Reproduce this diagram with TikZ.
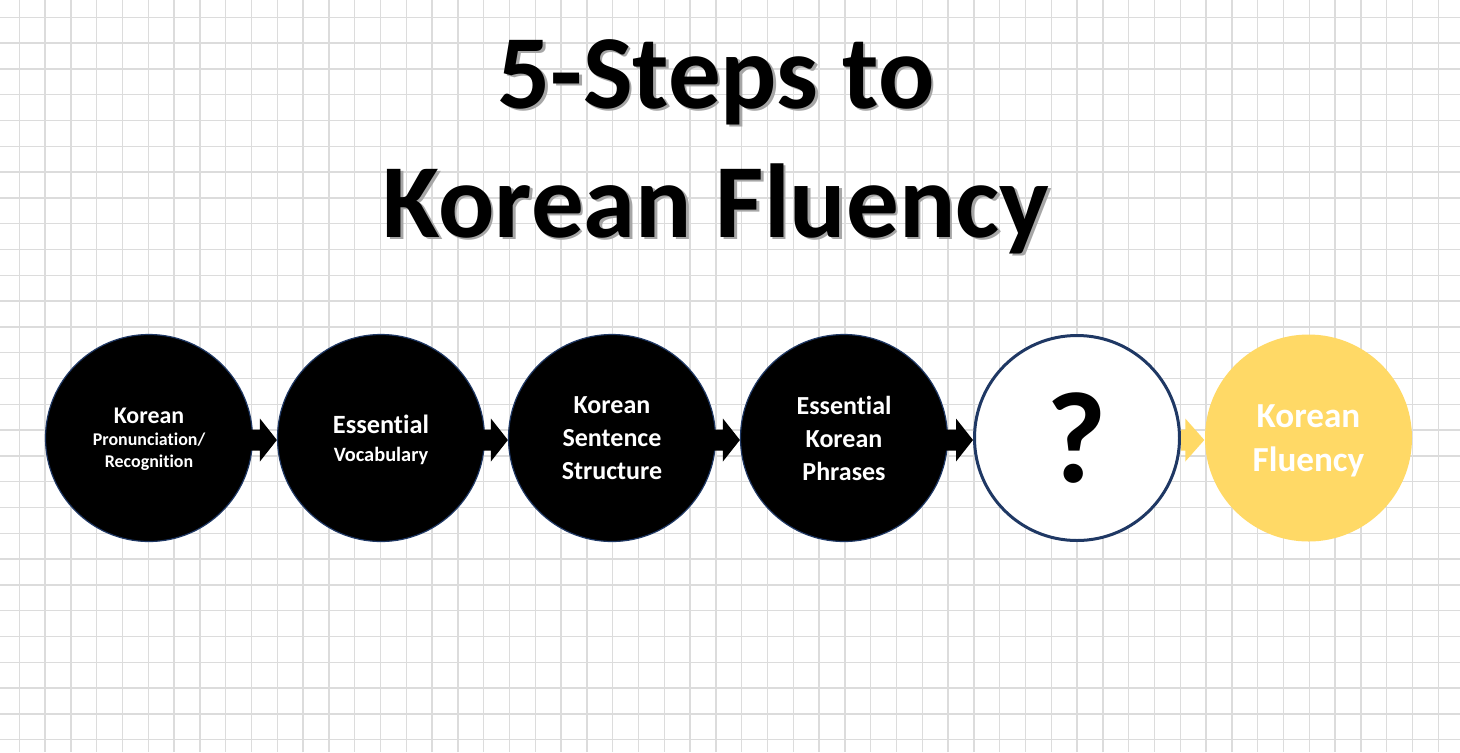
\documentclass[tikz,border=0pt]{standalone}
\usepackage{fontspec}
\setmainfont{Carlito}[Ligatures=CommonOff]
\usepackage{tikz}
\usepackage{xcolor}
\definecolor{stepnavy}{HTML}{1F3864}
\definecolor{fluencygold}{HTML}{FFD966}
\definecolor{gridgray}{HTML}{DCDCDC}

\begin{document}
\begin{tikzpicture}[line join=miter,
  gridline/.style={gridgray,line width=0.013cm},
  titletext/.style={anchor=base,font=\bfseries\fontsize{29.9pt}{36pt}\selectfont},
  stepcircle/.style={circle,inner sep=0pt,align=center,text depth=0pt},
  blackstep/.style={stepcircle,minimum size=2.07cm,fill=black,draw=stepnavy,line width=0.012cm,text=white},
  openstep/.style={stepcircle,minimum size=2.05cm,fill=white,draw=stepnavy,line width=0.03cm,text=black},
  goalstep/.style={stepcircle,minimum size=2.07cm,fill=fluencygold,text=white}]
\useasboundingbox (0,0) rectangle (14.6,7.52);
\fill[white] (0,0) rectangle (14.6,7.52);
% background grid
\foreach \i in {0,...,55} \draw[gridline] ({0.193+0.258*\i},0) -- ++(0,7.52);
\foreach \j in {0,...,28} \draw[gridline] (0,{7.347-0.258*\j}) -- ++(14.6,0);
% title with shadow
\node[titletext,text=black!35] (title1s) at (7.185,6.415) {5-Steps to};
\node[titletext,text=black!35] (title2s) at (7.185,5.125) {Korean Fluency};
\node[titletext] (title1) at (7.16,6.44) {5-Steps to};
\node[titletext] (title2) at (7.16,5.15) {Korean Fluency};
% steps
\node[blackstep,font=\bfseries\fontsize{5.1pt}{6.3pt}\selectfont] (c1) at (1.49,3.14)
  {{\fontsize{6.8pt}{7pt}\selectfont Korean}\\Pronunciation/\\Recognition};
\node[blackstep,font=\bfseries\fontsize{5.8pt}{8pt}\selectfont] (c2) at (3.81,3.14)
  {{\fontsize{7.5pt}{8pt}\selectfont Essential}\\Vocabulary};
\node[blackstep,font=\bfseries\fontsize{7.4pt}{9.4pt}\selectfont] (c3) at (6.12,3.14)
  {Korean\\Sentence\\Structure};
\node[blackstep,font=\bfseries\fontsize{7.4pt}{9.4pt}\selectfont] (c4) at (8.44,3.14)
  {Essential\\Korean\\Phrases};
\node[openstep,font=\bfseries\fontsize{37pt}{40pt}\selectfont] (c5) at (10.77,3.14) {?};
\node[goalstep,font=\bfseries\fontsize{10pt}{12.5pt}\selectfont] (c6) at (13.085,3.14)
  {Korean\\Fluency};
% block arrows
\foreach \a/\b in {c1/c2,c2/c3,c3/c4,c4/c5}
  \fill[black] ([xshift=-0.3mm,yshift=0.85mm]\a.east) -- ([xshift=-1.7mm,yshift=0.85mm]\b.west)
    -- ([xshift=-1.7mm,yshift=1.95mm]\b.west) -- ([yshift=-0.2mm]\b.west)
    -- ([xshift=-1.7mm,yshift=-2.35mm]\b.west) -- ([xshift=-1.7mm,yshift=-1.25mm]\b.west)
    -- ([xshift=-0.3mm,yshift=-1.25mm]\a.east) -- cycle;
\fill[fluencygold] ([yshift=0.85mm]c5.east) -- ([xshift=-1.9mm,yshift=0.85mm]c6.west)
  -- ([xshift=-1.9mm,yshift=1.95mm]c6.west) -- ([yshift=-0.2mm]c6.west)
  -- ([xshift=-1.9mm,yshift=-2.35mm]c6.west) -- ([xshift=-1.9mm,yshift=-1.25mm]c6.west)
  -- ([yshift=-1.25mm]c5.east) -- cycle;
\end{tikzpicture}
\end{document}
